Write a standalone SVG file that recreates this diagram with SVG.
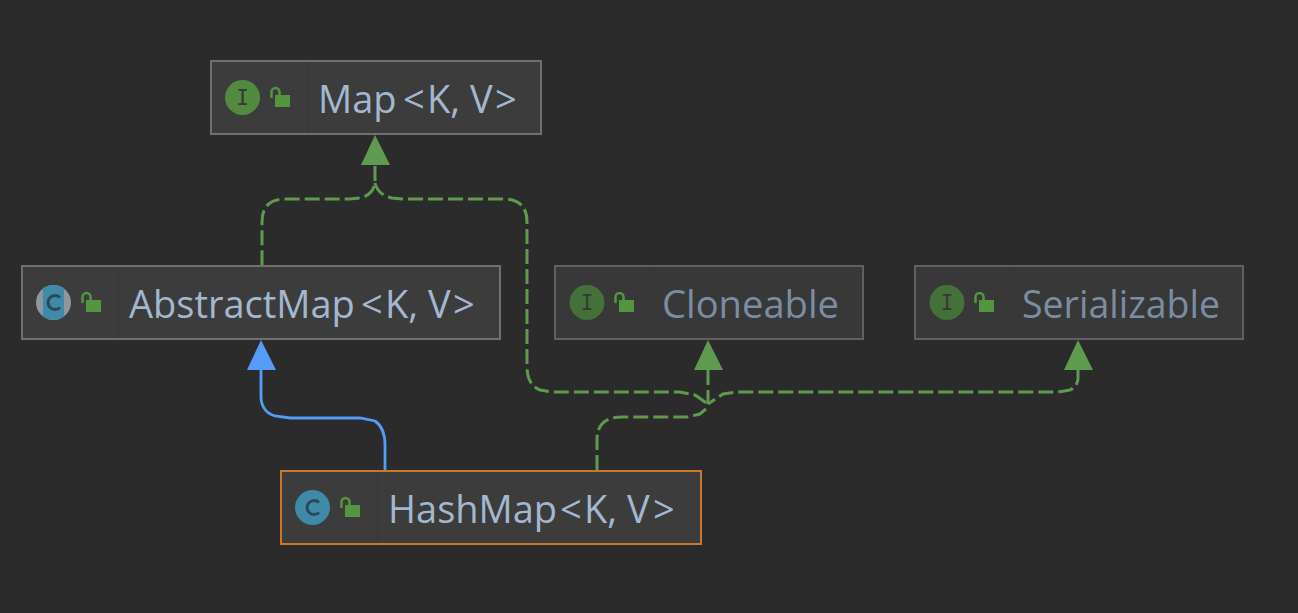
<svg xmlns="http://www.w3.org/2000/svg" width="1298" height="613" viewBox="0 0 1298 613">
<style>
.box{fill:#3c3c3c;stroke:#707070;stroke-width:2}
.dim .box{fill:#383838;stroke:#606060}
.sel .box{stroke:#c7772f}
.div{stroke:#363636;stroke-width:1}
.lbl{font-family:"Open Sans","Noto Sans",sans-serif;font-size:38px;fill:#a3b8d0}
.dim .lbl{fill:#7b8da3}
.ltr{font-family:"DejaVu Sans Mono",monospace;font-size:21px;fill:#333b33;text-anchor:middle}
.ci{fill:#528a3f}
.dim .ci{fill:#44703a}
.cc{fill:#3f8aa8}
.cl{fill:none;stroke:#2c4757;stroke-width:3}
.lk{fill:#54953f}
.dim .lk{fill:#487d3a}
.sh{fill:none;stroke:#54953f;stroke-width:2.5}
.dim .sh{stroke:#487d3a}
.d{fill:none;stroke:#5f9a4e;stroke-width:3;stroke-dasharray:15 5}
.s{fill:none;stroke:#549cf8;stroke-width:2.8}
</style>
<defs>
<g id="lock"><rect class="lk" x="5" y="8" width="15" height="12"/><path class="sh" d="M1.500 11V5A4 4 0 0 1 9.500 5V8"/></g>
<clipPath id="am"><circle cx="53.500" cy="302.500" r="17.500"/></clipPath>
</defs>
<rect width="1298" height="613" fill="#2b2b2b"/>
<g id="connectors">
<path class="d" d="M375 166V183Q373 195 360 198L350 199H285Q262 199 262 222V265"/>
<path class="d" d="M375 183Q378 195 392 198L402 199H503Q527 199 527 222V366Q527 385 540 390L552 392H680L695 395L708 404"/>
<path class="d" d="M708 370V404"/>
<path class="d" d="M1078 370V378Q1078 386 1070 390L1058 392H737L723 394L708 404"/>
<path class="d" d="M597 470V440Q597 417 622 417H687L700 414L708 407"/>
<path class="s" d="M261 369V398Q262 412 275 416L290 418H360L375 421Q385 428 385 445V470"/>
<polygon fill="#5f9a4e" points="375,135 390,165 361,165"/>
<polygon fill="#5f9a4e" points="708,340 723,370 694,370"/>
<polygon fill="#5f9a4e" points="1078,340 1093,370 1064,370"/>
<polygon fill="#549cf8" points="261,340 276,370 247,370"/>
</g>
<g id="node-map">
<rect class="box" x="211" y="61" width="330" height="73"/><path class="div" d="M307.500 62V133"/>
<circle class="ci" cx="242.500" cy="97.500" r="17.500"/><text class="ltr" x="242.500" y="105">I</text>
<use href="#lock" x="270" y="87"/>
<text class="lbl" x="318" y="113">Map<tspan x="403">&lt;</tspan><tspan x="427">K, V</tspan><tspan x="495">&gt;</tspan></text>
</g>
<g id="node-abstractmap">
<rect class="box" x="22" y="266" width="478" height="73"/><path class="div" d="M118.500 267V338"/>
<circle fill="#8e979e" cx="53.500" cy="302.500" r="17.500"/>
<rect class="cc" clip-path="url(#am)" x="43" y="285" width="21" height="35"/>
<path class="cl" d="M60 297.500A7 7 0 1 0 60 307.500"/>
<use href="#lock" x="81" y="292"/>
<text class="lbl" x="129" y="318">AbstractMap<tspan x="361">&lt;</tspan><tspan x="385">K, V</tspan><tspan x="453">&gt;</tspan></text>
</g>
<g id="node-cloneable" class="dim">
<rect class="box" x="555" y="266" width="308" height="73"/><path class="div" d="M651.500 267V338"/>
<circle class="ci" cx="587" cy="302.500" r="17.500"/><text class="ltr" x="587" y="310">I</text>
<use href="#lock" x="614" y="292"/>
<text class="lbl" x="662" y="318" textLength="177" lengthAdjust="spacingAndGlyphs">Cloneable</text>
</g>
<g id="node-serializable" class="dim">
<rect class="box" x="915" y="266" width="328" height="73"/><path class="div" d="M1011.500 267V338"/>
<circle class="ci" cx="947" cy="302.500" r="17.500"/><text class="ltr" x="947" y="310">I</text>
<use href="#lock" x="974" y="292"/>
<text class="lbl" x="1022" y="318" textLength="198" lengthAdjust="spacingAndGlyphs">Serializable</text>
</g>
<g id="node-hashmap" class="sel">
<rect class="box" x="281" y="471" width="420" height="73"/><path class="div" d="M377.500 472V543"/>
<circle class="cc" cx="312.500" cy="507.500" r="17.500"/>
<path class="cl" d="M319 502.500A7 7 0 1 0 319 512.500"/>
<use href="#lock" x="340" y="497"/>
<text class="lbl" x="388" y="523">HashMap<tspan x="560">&lt;</tspan><tspan x="584">K, V</tspan><tspan x="653">&gt;</tspan></text>
</g>
</svg>
